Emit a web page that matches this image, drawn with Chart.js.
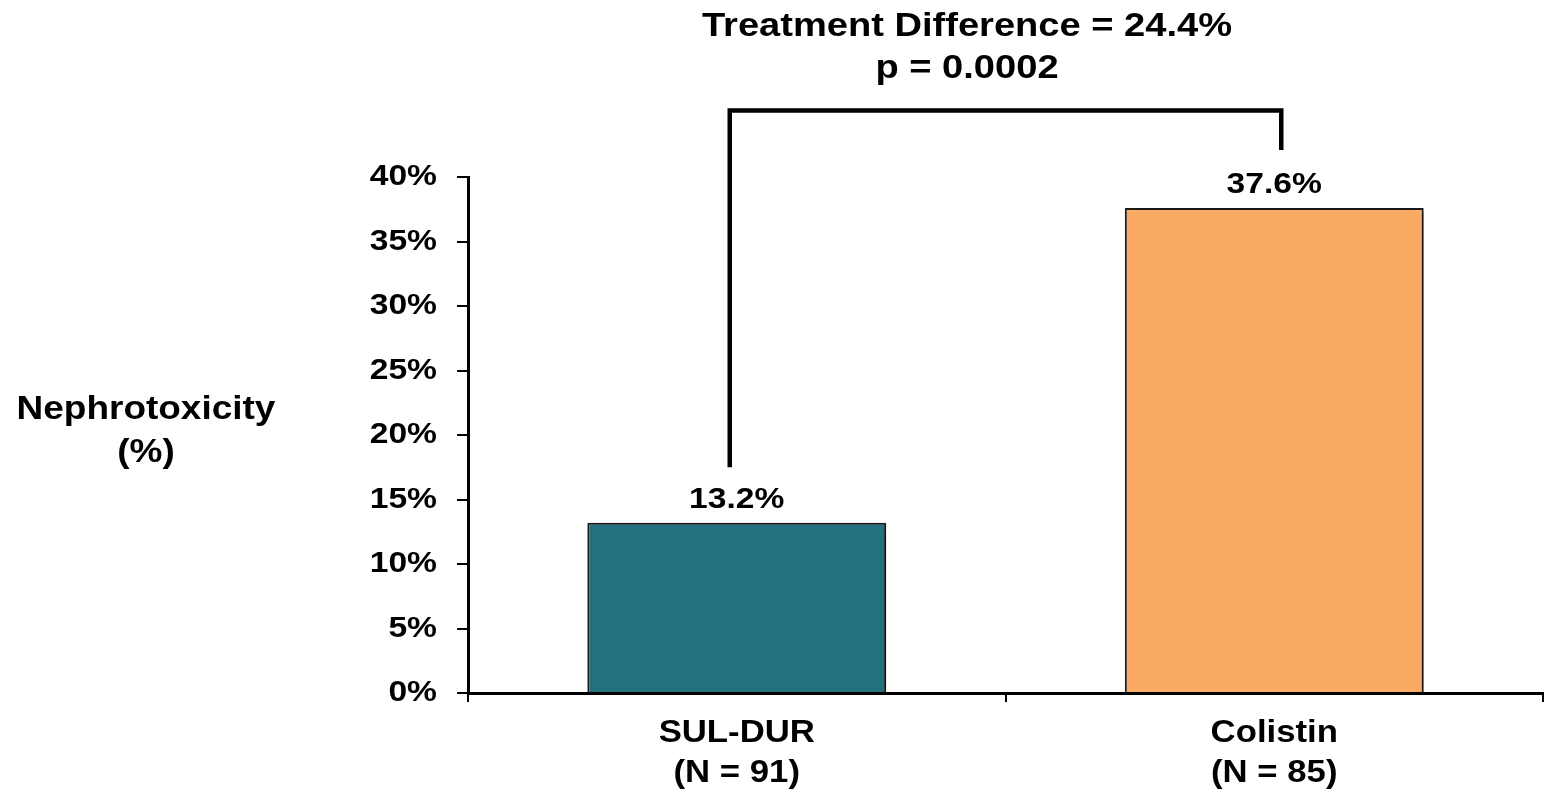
<!DOCTYPE html>
<html>
<head>
<meta charset="utf-8">
<script src="https://cdn.jsdelivr.net/npm/chart.js@4.4.1/dist/chart.umd.min.js"></script>
<style>
  html, body { margin: 0; padding: 0; background: #ffffff; }
  #wrap { width: 1544px; height: 791px; position: relative; }
</style>
</head>
<body>
<div id="wrap"><canvas id="c" width="1544" height="791"></canvas></div>
<script>
// Nephrotoxicity by treatment arm
const categories = [["SUL-DUR", "(N = 91)"], ["Colistin", "(N = 85)"]];
const nephrotoxicity = [13.2, 37.6];
const barColors = ["#22717E", "#FBAA64"];
const yTickValues = [0, 5, 10, 15, 20, 25, 30, 35, 40];
const titleLines = ["Treatment Difference = 24.4%", "p = 0.0002"];
const yTitleLines = ["Nephrotoxicity", "(%)"];
// bracket joining the two arms: low end on each side and the top bar, in % units
const bracketLeftEnd = 17.5;
const bracketRightEnd = 42.1;
const bracketTop = 45.15;

const FONT = "'Liberation Sans', Arial, Helvetica, sans-serif";
const TEXT_STRETCH = 1.12; // slightly wide lettering

const canvas = document.getElementById('c');
const ctx2d = canvas.getContext('2d');
const baseFillText = ctx2d.fillText.bind(ctx2d);
ctx2d.fillText = function (text, x, y, maxWidth) {
  this.save();
  this.translate(x, y);
  this.scale(TEXT_STRETCH, 1);
  if (maxWidth === undefined) baseFillText(text, 0, 0);
  else baseFillText(text, 0, 0, maxWidth / TEXT_STRETCH);
  this.restore();
};

const barShadow = {
  id: 'barShadow',
  beforeDatasetsDraw(chart) {
    const ctx = chart.ctx;
    ctx.save();
    ctx.shadowColor = 'rgba(0,0,0,0.35)';
    ctx.shadowBlur = 6;
    ctx.shadowOffsetX = 4;
    ctx.shadowOffsetY = 2;
  },
  afterDatasetsDraw(chart) {
    chart.ctx.restore();
  }
};

const annotations = {
  id: 'annotations',
  afterDraw(chart) {
    const ctx = chart.ctx;
    const y = chart.scales.y;
    const meta = chart.getDatasetMeta(0);

    ctx.save();
    ctx.fillStyle = '#000';
    ctx.textAlign = 'center';
    ctx.textBaseline = 'alphabetic';

    // title
    ctx.font = 'bold 34px ' + FONT;
    ctx.fillText(titleLines[0], 967, 36);
    ctx.fillText(titleLines[1], 967, 78);

    // horizontal y-axis title
    ctx.font = 'bold 33px ' + FONT;
    ctx.fillText(yTitleLines[0], 146, 419);
    ctx.fillText(yTitleLines[1], 146, 462);

    // value labels above bars
    ctx.font = 'bold 30px ' + FONT;
    meta.data.forEach((bar, i) => {
      ctx.fillText(nephrotoxicity[i].toFixed(1) + '%', bar.x, bar.y - 15);
    });

    // significance bracket
    const lx = meta.data[0].x - 7;
    const rx = meta.data[1].x + 7;
    ctx.strokeStyle = '#000';
    ctx.lineWidth = 4.5;
    ctx.lineJoin = 'miter';
    ctx.beginPath();
    ctx.moveTo(lx, y.getPixelForValue(bracketLeftEnd));
    ctx.lineTo(lx, y.getPixelForValue(bracketTop));
    ctx.lineTo(rx, y.getPixelForValue(bracketTop));
    ctx.lineTo(rx, y.getPixelForValue(bracketRightEnd));
    ctx.stroke();
    ctx.restore();
  }
};

new Chart(canvas, {
  type: 'bar',
  data: {
    labels: categories,
    datasets: [{
      data: nephrotoxicity,
      backgroundColor: barColors,
      borderColor: '#1c1c1c',
      borderWidth: 2,
      barPercentage: 0.556,
      categoryPercentage: 1.0
    }]
  },
  options: {
    responsive: false,
    animation: false,
    devicePixelRatio: 1,
    layout: { padding: { top: 177, right: 1, bottom: 0, left: 0 } },
    plugins: {
      legend: { display: false },
      tooltip: { enabled: false },
      title: { display: false }
    },
    scales: {
      x: {
        offset: true,
        afterFit(scale) { scale.height = 98; },
        grid: {
          offset: true,
          drawOnChartArea: false,
          drawTicks: true,
          tickLength: 9,
          color: '#000',
          lineWidth: 2
        },
        border: { display: true, color: '#000', width: 3 },
        ticks: {
          color: '#000',
          padding: 12,
          font: { family: FONT, size: 31, weight: 'bold', lineHeight: 1.28 }
        }
      },
      y: {
        min: 0,
        max: 40,
        afterFit(scale) { scale.width = 468; },
        afterBuildTicks(scale) { scale.ticks = yTickValues.map(v => ({ value: v })); },
        grid: {
          drawOnChartArea: false,
          drawTicks: true,
          tickLength: 11,
          color: '#000',
          lineWidth: 2
        },
        border: { display: true, color: '#000', width: 3 },
        ticks: {
          color: '#000',
          padding: 20,
          font: { family: FONT, size: 30, weight: 'bold' },
          callback: v => v + '%'
        }
      }
    }
  },
  plugins: [barShadow, annotations]
});
</script>
</body>
</html>
